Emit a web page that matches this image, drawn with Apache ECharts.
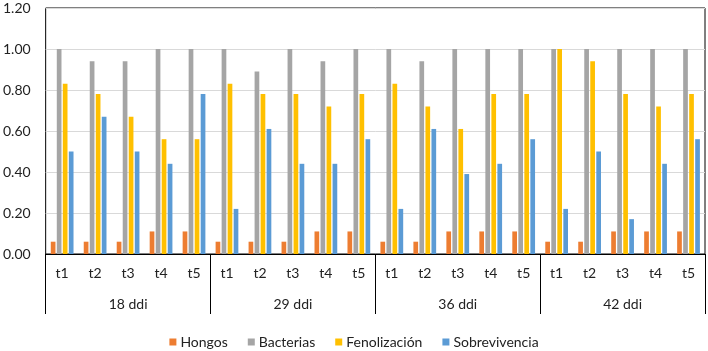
<!DOCTYPE html>
<html>
<head>
<meta charset="utf-8">
<script src="https://cdn.jsdelivr.net/npm/echarts@6/dist/echarts.min.js"></script>
<style>html,body{margin:0;padding:0;background:#fff;}#c{width:708px;height:351px;}</style>
</head>
<body>
<div id="c"></div>
<script>
const groups = ['18 ddi', '29 ddi', '36 ddi', '42 ddi'];
const times = ['t1', 't2', 't3', 't4', 't5'];
const hongos = [0.06,0.06,0.06,0.11,0.11, 0.06,0.06,0.06,0.11,0.11, 0.06,0.06,0.11,0.11,0.11, 0.06,0.06,0.11,0.11,0.11];
const bacterias = [1.00,0.94,0.94,1.00,1.00, 1.00,0.89,1.00,0.94,1.00, 1.00,0.94,1.00,1.00,1.00, 1.00,1.00,1.00,1.00,1.00];
const fenolizacion = [0.83,0.78,0.67,0.56,0.56, 0.83,0.78,0.78,0.72,0.78, 0.83,0.72,0.61,0.78,0.78, 1.00,0.94,0.78,0.72,0.78];
const sobrevivencia = [0.50,0.67,0.50,0.44,0.78, 0.22,0.61,0.44,0.44,0.56, 0.22,0.61,0.39,0.44,0.56, 0.22,0.50,0.17,0.44,0.56];
const yTicks = [0, 0.2, 0.4, 0.6, 0.8, 1.0, 1.2];

const cats = [];
groups.forEach(g => times.forEach(t => cats.push(t)));

const font = 'Lato, "Open Sans", sans-serif';
const txt = '#222';
const chart = echarts.init(document.getElementById('c'), null, {renderer: 'canvas'});
function mk(name, data, color) {
  return {name, type: 'bar', data, barWidth: 4.7, barGap: '28%', itemStyle: {color}, xAxisIndex: 0};
}
chart.setOption({
  animation: false,
  textStyle: {fontFamily: font},
  grid: {left: 44, right: 3, top: 8, bottom: 97, show: true, borderColor: '#000', borderWidth: 1, containLabel: false},
  legend: {
    data: ['Hongos', 'Bacterias', 'Fenolización', 'Sobrevivencia'],
    top: 330, left: 'center', icon: 'rect', itemWidth: 7, itemHeight: 7, itemGap: 20,
    textStyle: {fontFamily: font, fontSize: 14, color: txt, padding: [0, 0, 0, -1]}
  },
  xAxis: [
    {type: 'category', data: cats, position: 'bottom',
     axisLine: {show: true, lineStyle: {color: '#000', width: 1}},
     axisTick: {show: false},
     axisLabel: {interval: 0, margin: 12, fontSize: 14, color: txt, fontFamily: font},
     splitLine: {show: false}},
    {type: 'category', data: groups, position: 'bottom',
     axisLine: {show: false},
     axisTick: {show: true, length: 60, interval: 0, lineStyle: {color: '#000', width: 1}},
     axisLabel: {interval: 0, margin: 43, fontSize: 14, color: txt, fontFamily: font},
     splitLine: {show: false}}
  ],
  yAxis: {
    type: 'value', min: 0, max: 1.2, interval: 0.2,
    axisLine: {show: false}, axisTick: {show: false},
    axisLabel: {margin: 15, fontSize: 14, color: txt, fontFamily: font, formatter: v => v.toFixed(2)},
    splitLine: {lineStyle: {color: '#d9d9d9', width: 1}}
  },
  series: [
    mk('Hongos', hongos, '#ED7D31'),
    mk('Bacterias', bacterias, '#A5A5A5'),
    mk('Fenolización', fenolizacion, '#FFC000'),
    mk('Sobrevivencia', sobrevivencia, '#5B9BD5')
  ]
});
</script>
</body>
</html>
